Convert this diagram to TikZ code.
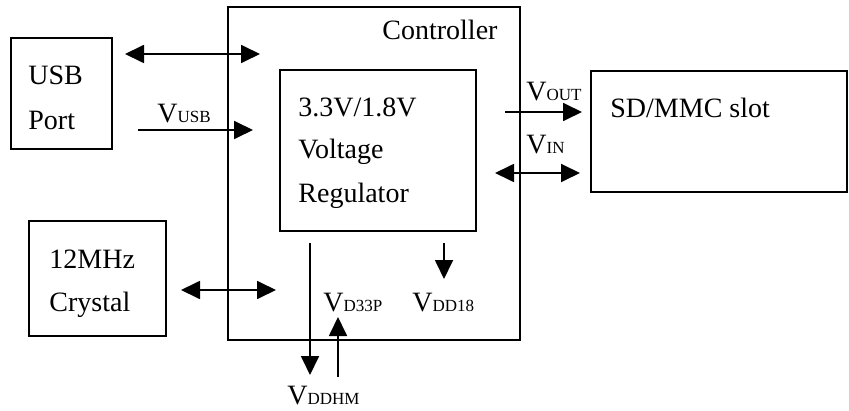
\documentclass[tikz,border=0pt]{standalone}
\usepackage{fontspec}
\setmainfont{Liberation Serif}
\usetikzlibrary{arrows.meta,fit}
\newcommand{\vlbl}[1]{V{\fontsize{8.5}{10}\selectfont #1}}
\tikzset{
  blk/.style={draw, line width=0.9pt, inner sep=0pt},
  txt/.style={font=\fontsize{14}{21.5}\selectfont, inner sep=0pt, align=left, anchor=base west},
  sig/.style={line width=0.9pt, -{Triangle[length=9.5pt,width=9pt]}},
  bus/.style={line width=0.9pt, {Triangle[length=9.5pt,width=9pt]}-{Triangle[length=9.5pt,width=9pt]}}
}
\begin{document}
\begin{tikzpicture}[x=0.5pt,y=-0.5pt]
\useasboundingbox (0,0) rectangle (849,411);
% blocks
\node[blk,fit={(228,7) (520,340)}] (ctrl) {};
\node[blk,fit={(280,70) (476,231)}] (reg) {};
\node[blk,fit={(11,38) (112,149)}] (usb) {};
\node[blk,fit={(29,221) (166,336)}] (xtal) {};
\node[blk,fit={(591,71) (847,192)}] (sd) {};
% block texts (base = last line)
\node[txt] (ctrltxt) at (382,40) {Controller};
\node[txt] (usbtxt) at (28,130) {USB\\[1pt]Port};
\node[txt] (regtxt) at (298,202) {3.3V/1.8V\\Voltage\\Regulator};
\node[txt] (xtaltxt) at (49,311) {12MHz\\Crystal};
\node[txt] (sdtxt) at (610,118) {SD/MMC slot};
% end points
\coordinate (usbA) at (125,54);  \coordinate (usbB) at (260,54);
\coordinate (vusbA) at (138,130); \coordinate (vusbB) at (253,130);
\coordinate (voutA) at (505,112); \coordinate (voutB) at (582,112);
\coordinate (vinA) at (495,173);  \coordinate (vinB) at (580,173);
\coordinate (xtalA) at (181,290); \coordinate (xtalB) at (276,290);
\coordinate (hmA) at (310,243);   \coordinate (hmB) at (310,375);
\coordinate (d33A) at (338,377);  \coordinate (d33B) at (338,317);
\coordinate (d18A) at (444,243);  \coordinate (d18B) at (444,279);
% connectors
\draw[bus] (usbA) -- (usbB);
\draw[sig] (vusbA) -- (vusbB);
\draw[sig] (voutA) -- (voutB);
\draw[bus] (vinA) -- (vinB);
\draw[bus] (xtalA) -- (xtalB);
\draw[sig] (hmA) -- (hmB);
\draw[sig] (d33A) -- (d33B);
\draw[sig] (d18A) -- (d18B);
% signal labels
\node[txt] (vusb) at (157,123) {\vlbl{USB}};
\node[txt] (vout) at (526,101) {\vlbl{OUT}};
\node[txt] (vin) at (526,154) {\vlbl{IN}};
\node[txt] (vd33p) at (323,311) {\vlbl{D33P}};
\node[txt] (vdd18) at (412,311) {\vlbl{DD18}};
\node[txt] (vddhm) at (287,404) {\vlbl{DDHM}};
\end{tikzpicture}
\end{document}
